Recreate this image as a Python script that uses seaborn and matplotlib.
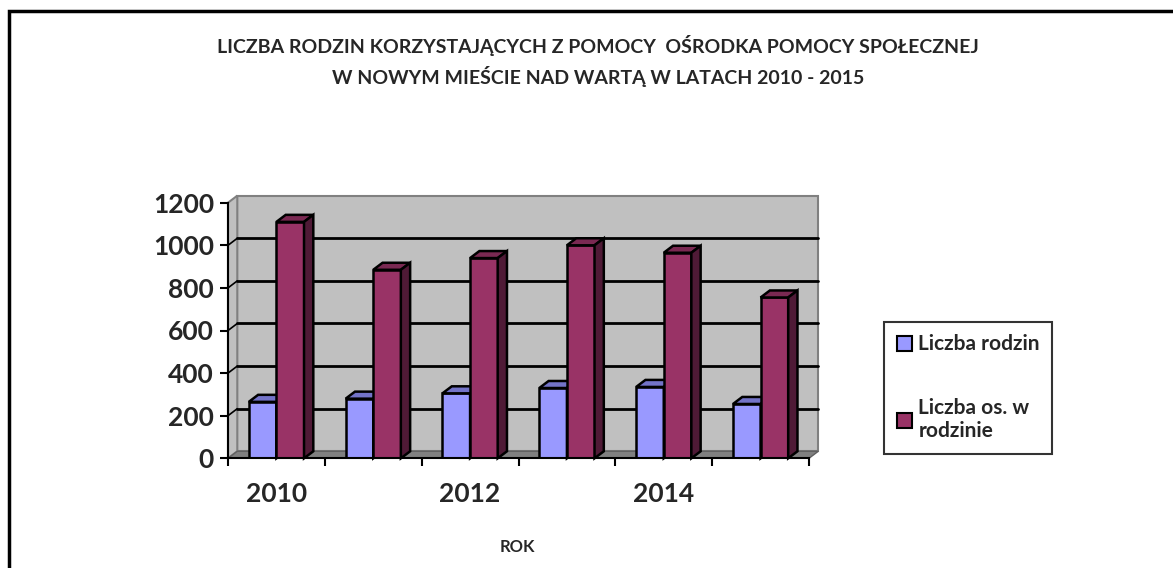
import matplotlib
matplotlib.use("Agg")
import matplotlib.pyplot as plt
from matplotlib.patches import Polygon, Rectangle, Patch
import pandas as pd
import seaborn as sns

years = [2010, 2011, 2012, 2013, 2014, 2015]
rodziny = [265, 280, 305, 330, 335, 255]
osoby = [1110, 885, 940, 1000, 965, 755]
series = ["Liczba rodzin", "Liczba os. w\nrodzinie"]
front_colors = ["#9999FF", "#993366"]
top_colors = ["#7373C8", "#7A2952"]
side_colors = ["#5C5CA8", "#4F1A36"]
yticks = [0, 200, 400, 600, 800, 1000, 1200]
xlabels = ["2010", "", "2012", "", "2014", ""]
title = ("LICZBA RODZIN KORZYSTAJĄCYCH Z POMOCY  OŚRODKA POMOCY SPOŁECZNEJ\n"
         "W NOWYM MIEŚCIE NAD WARTĄ W LATACH 2010 - 2015")

df = pd.DataFrame({
    "rok": years * 2,
    "seria": [series[0]] * len(years) + [series[1]] * len(years),
    "wartosc": rodziny + osoby,
})

sns.set_theme(style="white")
plt.rcParams["font.family"] = ["Lato", "DejaVu Sans"]

W, H = 1173, 568
fig = plt.figure(figsize=(W / 100, H / 100), dpi=100)
ax = fig.add_axes([228 / W, 1 - 458.3 / H, 581 / W, 255.6 / H])

# depth of the fake 3D effect (data units)
DX, DY = 0.096, 33

sns.barplot(data=df, x="rok", y="wartosc", hue="seria", palette=front_colors,
            width=0.57, edgecolor="black", linewidth=1.8, saturation=1,
            legend=False, ax=ax)
ax.set_xlim(-0.5, 5.5)
ax.set_ylim(0, 1200)
ax.set_facecolor("none")

# back wall, left wall, floor
ax.add_patch(Polygon([(-0.5 + DX, DY), (5.5 + DX, DY), (5.5 + DX, 1200 + DY),
                      (-0.5 + DX, 1200 + DY)], closed=True, facecolor="#C0C0C0",
                     edgecolor="#808080", lw=1.5, zorder=0, clip_on=False))
ax.add_patch(Polygon([(-0.5, 0), (-0.5 + DX, DY), (-0.5 + DX, 1200 + DY), (-0.5, 1200)],
                     closed=True, facecolor="#C0C0C0", edgecolor="#808080", lw=1.5,
                     zorder=0, clip_on=False))
ax.add_patch(Polygon([(-0.5, 0), (5.5, 0), (5.5 + DX, DY), (-0.5 + DX, DY)], closed=True,
                     facecolor="#808080", edgecolor="#606060", lw=1, zorder=0.5,
                     clip_on=False))
for v in yticks[1:-1]:
    ax.plot([-0.5 + DX, 5.5 + DX], [v + DY, v + DY], color="black", lw=2, zorder=1,
            clip_on=False)
    ax.plot([-0.5, -0.5 + DX], [v, v + DY], color="black", lw=1.2, zorder=1,
            clip_on=False)

# top and side faces of every bar
n = len(years)
for i, bar in enumerate(ax.patches[:2 * n]):
    s = i // n
    x0, w, h = bar.get_x(), bar.get_width(), bar.get_height()
    z = 3 + s
    bar.set_zorder(z)
    ax.add_patch(Polygon([(x0, h), (x0 + w, h), (x0 + w + DX, h + DY), (x0 + DX, h + DY)],
                         closed=True, facecolor=top_colors[s], edgecolor="black",
                         lw=1.8, zorder=z + 0.1, clip_on=False))
    ax.add_patch(Polygon([(x0 + w, 0), (x0 + w + DX, DY), (x0 + w + DX, h + DY), (x0 + w, h)],
                         closed=True, facecolor=side_colors[s], edgecolor="black",
                         lw=1.8, zorder=z + 0.1, clip_on=False))

for side in ["top", "right"]:
    ax.spines[side].set_visible(False)
for side in ["left", "bottom"]:
    ax.spines[side].set_color("black")
    ax.spines[side].set_linewidth(1.5)
    ax.spines[side].set_zorder(6)

ax.set_yticks(yticks)
ax.set_yticklabels([str(v) for v in yticks], fontsize=19, fontweight="bold")
ax.set_xticks(range(n))
ax.set_xticklabels(xlabels, fontsize=19, fontweight="bold")
ax.set_xticks([k - 0.5 for k in range(n + 1)], minor=True)
ax.tick_params(axis="y", left=True, length=6, width=1.5, color="black", pad=4)
ax.tick_params(axis="x", which="major", bottom=True, length=0, pad=17)
ax.tick_params(axis="x", which="minor", bottom=True, length=6, width=1.5, color="black")
ax.set_ylabel("")
ax.set_xlabel("ROK", fontsize=12, fontweight="bold")
ax.xaxis.set_label_coords((517 - 228) / 581, -(539 - 458.3) / 255.6)

fig.text(598 / W, 1 - 61 / H, title, ha="center", va="center", fontsize=14,
         fontweight="bold", linespacing=1.55)

handles = [Patch(facecolor=c, edgecolor="black", lw=1.5) for c in front_colors]
leg = ax.legend(handles, series, loc="upper left", bbox_to_anchor=(884 / W, 1 - 322 / H),
                bbox_transform=fig.transFigure, borderaxespad=0, frameon=True,
                fancybox=False, prop={"weight": "bold", "size": 15}, handlelength=0.75,
                handleheight=0.75, handletextpad=0.3, labelspacing=2.1, borderpad=0.6)
leg.get_frame().set_edgecolor("black")
leg.get_frame().set_linewidth(1.5)

# outer chart border (runs off the right and bottom edge)
fig.patches.append(Rectangle((9 / W, -0.1), 1.2, 1 - 11 / H + 0.1, transform=fig.transFigure,
                             fill=False, edgecolor="black", lw=2.5))

fig.savefig("out.png", dpi=100)
